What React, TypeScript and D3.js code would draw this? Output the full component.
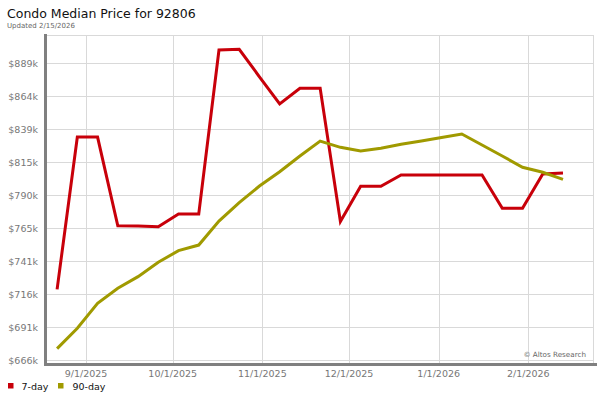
import React from "react";
import * as d3 from "d3";

const title = "Condo Median Price for 92806";
const subtitle = "Updated 2/15/2026";
const credit = "© Altos Research";

const startDate = "2025-08-22";
const sevenDay = [719.4, 833.6, 833.6, 767.1, 766.9, 766.4, 775.9, 775.9, 898.9, 899.4, 878.8, 858.4, 870.2, 870.2, 770.3, 796.7, 796.7, 805.1, 805.1, 805.1, 805.1, 805.1, 780.2, 780.2, 805.9, 806.6];
const ninetyDay = [674.9, 690.2, 708.9, 720.2, 728.9, 739.7, 748.4, 752.6, 770.6, 784.4, 796.9, 807.6, 819.4, 830.6, 825.9, 823.1, 825.2, 828.2, 830.6, 833.3, 835.9, 827.6, 819.4, 810.9, 807.2, 801.9];

const yTickValues = [666.4, 691.1, 715.8, 740.6, 765.3, 790.0, 814.7, 839.4, 864.2, 888.9];
const yTickLabels = ["$666k", "$691k", "$716k", "$741k", "$765k", "$790k", "$815k", "$839k", "$864k", "$889k"];
const xTickDates = ["2025-09-01", "2025-10-01", "2025-11-01", "2025-12-01", "2026-01-01", "2026-02-01"];
const xTickLabels = ["9/1/2025", "10/1/2025", "11/1/2025", "12/1/2025", "1/1/2026", "2/1/2026"];

const series = [
  { name: "7-day", values: sevenDay, color: "#c8000a" },
  { name: "90-day", values: ninetyDay, color: "#a09a00" },
];

const FONT = "DejaVu Sans, Verdana, sans-serif";

export default function App() {
  const left = 46, right = 593, top = 35, bottom = 363;
  const parse = (s: string) => new Date(s + "T00:00:00Z");
  const start = parse(startDate);
  const dates = sevenDay.map((_, i) => d3.utcDay.offset(start, i * 7));

  const x = d3.scaleUtc()
    .domain([parse("2025-09-01"), parse("2026-02-01")])
    .range([86, 528.3]);
  const y = d3.scaleLinear().domain([666.4, 888.9]).range([360, 63.3]);

  const line = d3.line<number>()
    .x((_, i) => x(dates[i]))
    .y((v) => y(v));

  return (
    <svg width={600} height={400} style={{ position: "absolute", left: 0, top: 0, background: "#fff" }}>
      <rect x={0} y={0} width={600} height={400} fill="#fff" />
      <text x={7} y={18} fontFamily={FONT} fontSize={12.5} fill="#111">{title}</text>
      <text x={7} y={27.5} fontFamily={FONT} fontSize={7} fill="#666">{subtitle}</text>

      {/* grid */}
      {yTickValues.map((v, i) => (
        <line key={"gy" + i} x1={left} x2={right} y1={Math.round(y(v)) + 0.5} y2={Math.round(y(v)) + 0.5} stroke="#d9d9d9" strokeWidth={1} />
      ))}
      {xTickDates.map((d, i) => (
        <line key={"gx" + i} x1={Math.round(x(parse(d))) + 0.5} x2={Math.round(x(parse(d))) + 0.5} y1={top} y2={bottom} stroke="#d9d9d9" strokeWidth={1} />
      ))}
      <line x1={left} x2={right} y1={top + 0.5} y2={top + 0.5} stroke="#d9d9d9" />
      <line x1={right + 0.5} x2={right + 0.5} y1={top} y2={bottom} stroke="#d9d9d9" />

      {/* axes */}
      <rect x={44} y={34} width={3} height={332} fill="#808080" />
      <rect x={44} y={363} width={553} height={3} fill="#808080" />

      {yTickValues.map((v, i) => (
        <text key={"ty" + i} x={38} y={y(v) + 3.5} textAnchor="end" fontFamily={FONT} fontSize={9.5} fill="#777">{yTickLabels[i]}</text>
      ))}
      {xTickDates.map((d, i) => (
        <text key={"tx" + i} x={x(parse(d))} y={376.5} textAnchor="middle" fontFamily={FONT} fontSize={9.5} fill="#777">{xTickLabels[i]}</text>
      ))}

      <text x={586} y={357.3} textAnchor="end" fontFamily={FONT} fontSize={7.2} fill="#666">{credit}</text>

      {series.map((s) => (
        <path key={s.name} d={line(s.values) || ""} fill="none" stroke={s.color} strokeWidth={3} strokeLinejoin="miter" strokeLinecap="butt" />
      ))}

      {/* legend */}
      <rect x={8} y={383} width={5.5} height={5.5} fill={series[0].color} />
      <text x={21.5} y={389.5} fontFamily={FONT} fontSize={9.5} fill="#111">{series[0].name}</text>
      <rect x={58} y={383} width={5.5} height={5.5} fill={series[1].color} />
      <text x={72.5} y={389.5} fontFamily={FONT} fontSize={9.5} fill="#111">{series[1].name}</text>
    </svg>
  );
}
